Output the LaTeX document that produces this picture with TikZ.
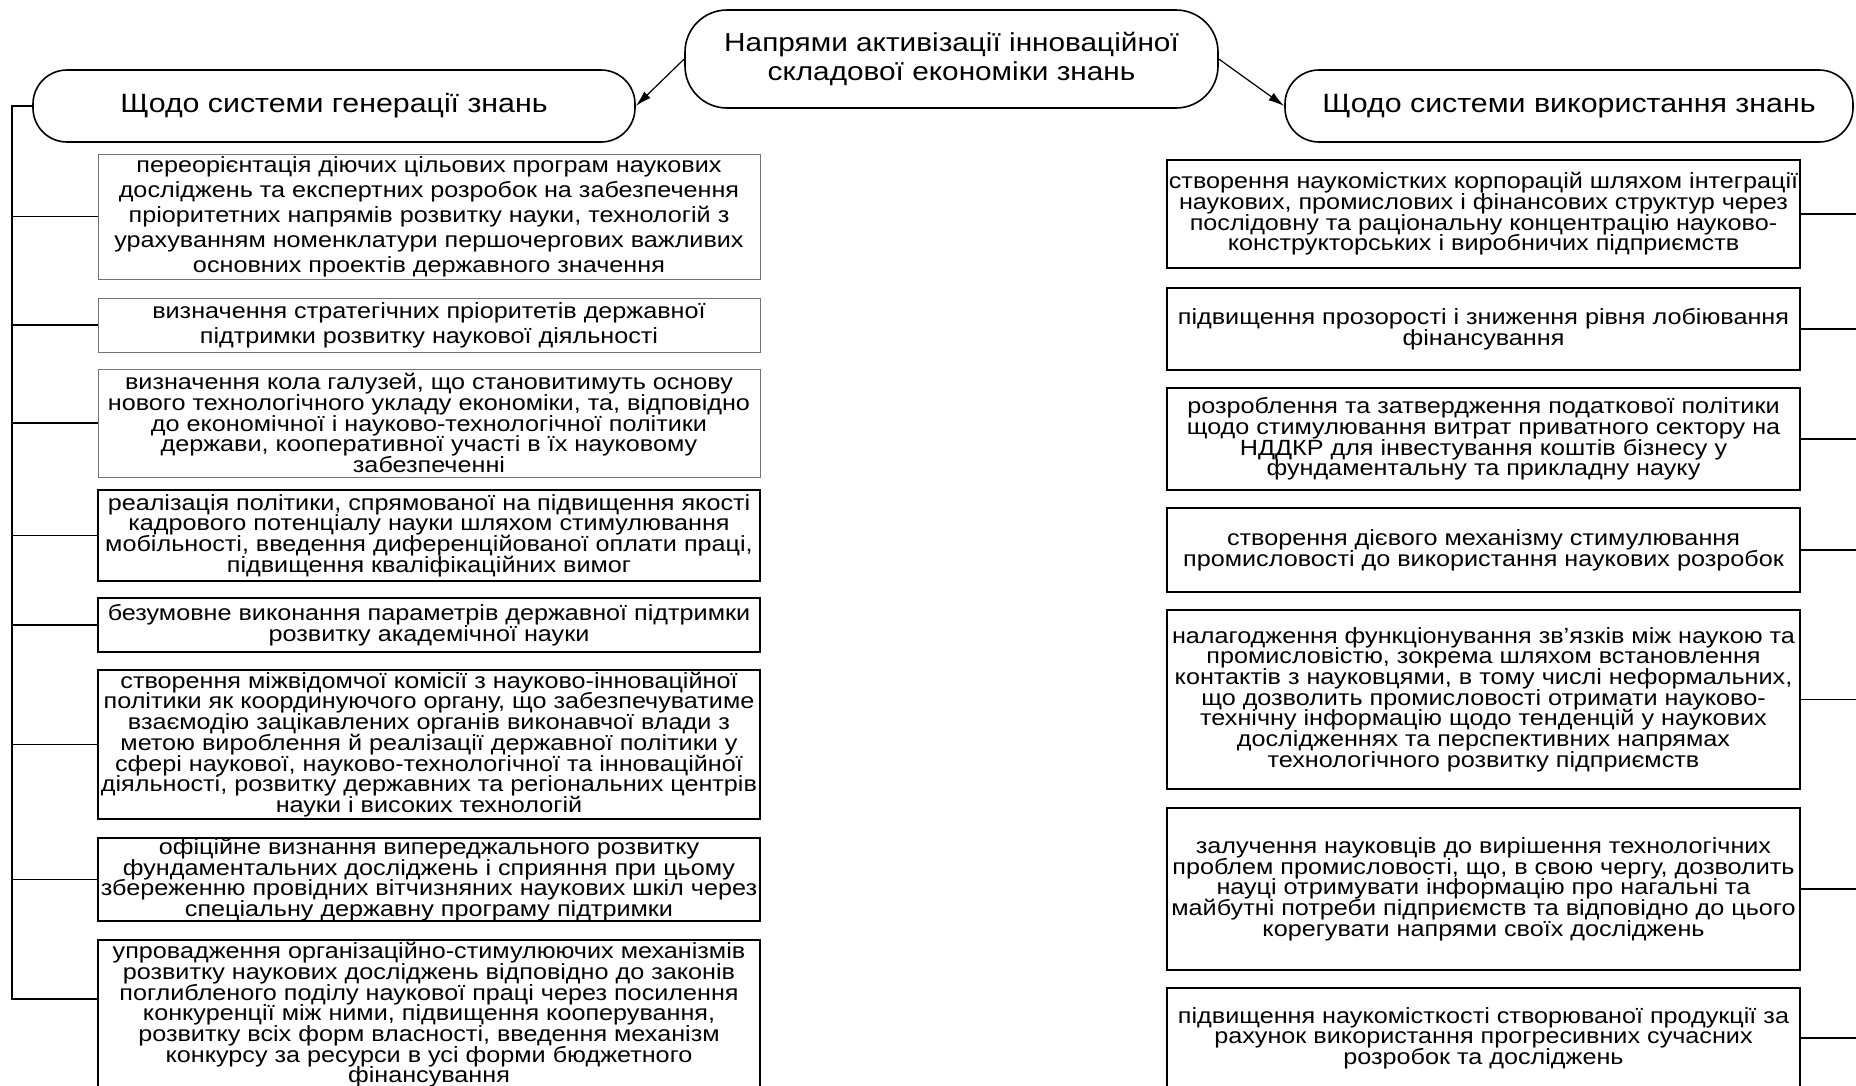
\documentclass[tikz,border=0pt]{standalone}
\usepackage{fontspec}
\setmainfont[FakeStretch=1.145]{Liberation Sans}
\usetikzlibrary{arrows.meta}
\newcommand{\boxfont}{\fontsize{22}{20.7}\selectfont\setlength{\lineskiplimit}{-50pt}}
\newcommand{\loosefont}{\fontsize{22}{25}\selectfont\setlength{\lineskiplimit}{-50pt}}

\begin{document}
\begin{tikzpicture}[x=1pt, y=-1pt,
  head/.style={draw, line width=1.6pt, rounded corners=34pt, align=center,
               font=\fontsize{26.5}{30}\selectfont, inner sep=0pt},
  lbox/.style={draw, line width=1.4pt, minimum width=662pt, align=center,
               font=\boxfont, inner sep=0pt},
  rbox/.style={lbox, minimum width=633pt},
  faint/.style={draw=black!55, line width=0.9pt},
  loose/.style={font=\loosefont},
  conn/.style={line width=1.5pt},
  arr/.style={-{Latex[length=16pt,width=9pt]}, line width=1.2pt}
]
\useasboundingbox (0,0) rectangle (1856,1085);

\node[head, font=\fontsize{26}{29.5}\selectfont, minimum width=533pt, minimum height=98pt,
      rounded corners=42pt] (top) at (951.5,59)
  {Напрями активізації інноваційної\\складової економіки знань};
\node[head, minimum width=602pt, minimum height=72pt] (gen) at (334,106)
  {Щодо системи генерації знань};
\node[head, minimum width=568pt, minimum height=72pt] (use) at (1569,106)
  {Щодо системи використання знань};

\node[lbox, faint, loose, minimum height=125pt] (g1) at (429,216.5)
  {переорієнтація діючих цільових програм наукових\\
   досліджень та експертних розробок на забезпечення\\
   пріоритетних напрямів розвитку науки, технологій з\\
   урахуванням номенклатури першочергових важливих\\
   основних проектів державного значення};
\node[lbox, faint, loose, minimum height=54pt] (g2) at (429,325)
  {визначення стратегічних пріоритетів державної\\
   підтримки розвитку наукової діяльності};
\node[lbox, faint, minimum height=108pt] (g3) at (429,423)
  {визначення кола галузей, що становитимуть основу\\
   нового технологічного укладу економіки, та, відповідно\\
   до економічної і науково-технологічної політики\\
   держави, кооперативної участі в їх науковому\\
   забезпеченні};
\node[lbox, minimum height=91pt] (g4) at (429,535.5)
  {реалізація політики, спрямованої на підвищення якості\\
   кадрового потенціалу науки шляхом стимулювання\\
   мобільності, введення диференційованої оплати праці,\\
   підвищення кваліфікаційних вимог};
\node[lbox, minimum height=54pt] (g5) at (429,625)
  {безумовне виконання параметрів державної підтримки\\
   розвитку академічної науки};
\node[lbox, minimum height=149pt] (g6) at (429,744.5)
  {створення міжвідомчої комісії з науково-інноваційної\\
   політики як координуючого органу, що забезпечуватиме\\
   взаємодію зацікавлених органів виконавчої влади з\\
   метою вироблення й реалізації державної політики у\\
   сфері наукової, науково-технологічної та інноваційної\\
   діяльності, розвитку державних та регіональних центрів\\
   науки і високих технологій};
\node[lbox, minimum height=83pt] (g7) at (429,879.5)
  {офіційне визнання випереджального розвитку\\
   фундаментальних досліджень і сприяння при цьому\\
   збереженню провідних вітчизняних наукових шкіл через\\
   спеціальну державну програму підтримки};
\node[lbox, minimum height=150pt] (g8) at (429,1015)
  {упровадження організаційно-стимулюючих механізмів\\
   розвитку наукових досліджень відповідно до законів\\
   поглибленого поділу наукової праці через посилення\\
   конкуренції між ними, підвищення кооперування,\\
   розвитку всіх форм власності, введення механізм\\
   конкурсу за ресурси в усі форми бюджетного\\
   фінансування};

\node[rbox, minimum height=108pt] (u1) at (1483.5,214)
  {створення наукомістких корпорацій шляхом інтеграції\\
   наукових, промислових і фінансових структур через\\
   послідовну та раціональну концентрацію науково-\\
   конструкторських і виробничих підприємств};
\node[rbox, minimum height=82pt] (u2) at (1483.5,329)
  {підвищення прозорості і зниження рівня лобіювання\\
   фінансування};
\node[rbox, minimum height=102pt] (u3) at (1483.5,439)
  {розроблення та затвердження податкової політики\\
   щодо стимулювання витрат приватного сектору на\\
   НДДКР для інвестування коштів бізнесу у\\
   фундаментальну та прикладну науку};
\node[rbox, minimum height=84pt] (u4) at (1483.5,550)
  {створення дієвого механізму стимулювання\\
   промисловості до використання наукових розробок};
\node[rbox, minimum height=179pt] (u5) at (1483.5,699.5)
  {налагодження функціонування зв’язків між наукою та\\
   промисловістю, зокрема шляхом встановлення\\
   контактів з науковцями, в тому числі неформальних,\\
   що дозволить промисловості отримати науково-\\
   технічну інформацію щодо тенденцій у наукових\\
   дослідженнях та перспективних напрямах\\
   технологічного розвитку підприємств};
\node[rbox, minimum height=162pt] (u6) at (1483.5,889)
  {залучення науковців до вирішення технологічних\\
   проблем промисловості, що, в свою чергу, дозволить\\
   науці отримувати інформацію про нагальні та\\
   майбутні потреби підприємств та відповідно до цього\\
   корегувати напрями своїх досліджень};
\node[rbox, minimum height=100pt] (u7) at (1483.5,1038)
  {підвищення наукомісткості створюваної продукції за\\
   рахунок використання прогресивних сучасних\\
   розробок та досліджень};

\draw[arr] (top.west) -- (gen.east);
\draw[arr] (top.east) -- (use.west);

\coordinate (lspine) at (12,106);
\coordinate (rspine) at (1875,106);
\coordinate (g8in) at ([yshift=16pt]g8.west);
\draw[conn] (gen.west) -- (lspine) -- (lspine |- g8in) -- (g8in);
\foreach \n in {1,...,7}
  \draw[conn] (g\n.west) -- (lspine |- g\n.west);
\foreach \n in {1,...,7}
  \draw[conn] (u\n.east) -- (rspine |- u\n.east);
\end{tikzpicture}
\end{document}
